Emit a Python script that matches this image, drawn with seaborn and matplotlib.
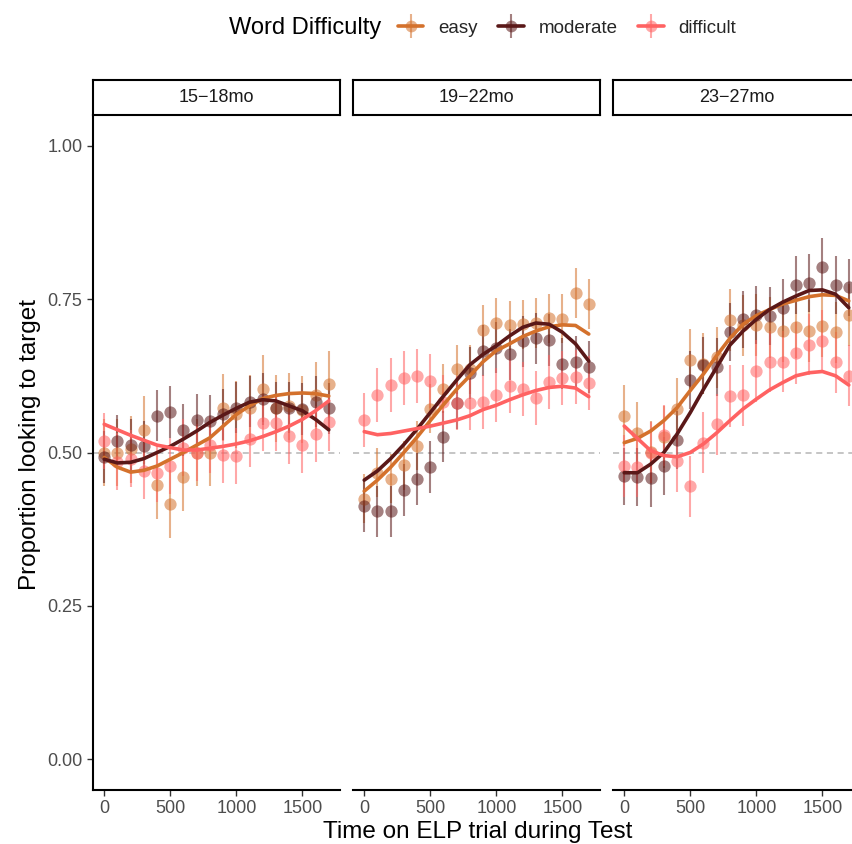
import numpy as np
import pandas as pd
import matplotlib
matplotlib.use("Agg")
import matplotlib.pyplot as plt
from matplotlib.lines import Line2D
from matplotlib.legend_handler import HandlerTuple
import seaborn as sns

sns.set_theme(style="white")
plt.rcParams["font.family"] = ["Liberation Sans", "DejaVu Sans"]

# ---- data -------------------------------------------------------------
time_ms = [0, 100, 200, 300, 400, 500, 600, 700, 800,
           900, 1000, 1100, 1200, 1300, 1400, 1500, 1600, 1700]
age_groups = ["15\u221218mo", "19\u221222mo", "23\u221227mo"]
difficulties = ["easy", "moderate", "difficult"]

# mean proportion of looking to target, per time bin
mean_15_18 = {
    "easy":      [0.500, 0.500, 0.505, 0.537, 0.447, 0.416, 0.460, 0.500, 0.500,
                  0.573, 0.562, 0.572, 0.604, 0.572, 0.575, 0.570, 0.593, 0.611],
    "moderate":  [0.493, 0.519, 0.512, 0.510, 0.560, 0.566, 0.537, 0.553, 0.552,
                  0.562, 0.573, 0.583, 0.587, 0.573, 0.573, 0.571, 0.583, 0.572],
    "difficult": [0.519, 0.485, 0.490, 0.470, 0.466, 0.478, 0.508, 0.500, 0.512,
                  0.496, 0.494, 0.522, 0.548, 0.548, 0.527, 0.512, 0.530, 0.549],
}
mean_19_22 = {
    "easy":      [0.425, 0.467, 0.457, 0.479, 0.511, 0.571, 0.604, 0.636, 0.636,
                  0.700, 0.711, 0.707, 0.709, 0.711, 0.719, 0.718, 0.760, 0.742],
    "moderate":  [0.413, 0.404, 0.404, 0.439, 0.457, 0.476, 0.526, 0.580, 0.630,
                  0.666, 0.671, 0.660, 0.681, 0.686, 0.683, 0.645, 0.648, 0.639],
    "difficult": [0.553, 0.594, 0.610, 0.621, 0.624, 0.616, 0.582, 0.580, 0.580,
                  0.583, 0.593, 0.608, 0.604, 0.589, 0.615, 0.622, 0.623, 0.613],
}
mean_23_27 = {
    "easy":      [0.560, 0.532, 0.501, 0.525, 0.571, 0.651, 0.645, 0.655, 0.716,
                  0.707, 0.708, 0.704, 0.698, 0.704, 0.698, 0.706, 0.696, 0.724],
    "moderate":  [0.461, 0.460, 0.459, 0.478, 0.520, 0.618, 0.642, 0.639, 0.696,
                  0.717, 0.724, 0.723, 0.736, 0.773, 0.776, 0.803, 0.773, 0.769],
    "difficult": [0.478, 0.477, 0.500, 0.528, 0.486, 0.445, 0.516, 0.546, 0.592,
                  0.593, 0.633, 0.648, 0.648, 0.662, 0.676, 0.682, 0.647, 0.625],
}

# standard error of each series
se_15_18 = {"easy": 0.055, "moderate": 0.042, "difficult": 0.046}
se_19_22 = {"easy": 0.040, "moderate": 0.042, "difficult": 0.044}
se_23_27 = {"easy": 0.050, "moderate": 0.047, "difficult": 0.050}

# model-fitted trajectories
fit_15_18 = {
    "easy":      [0.492, 0.476, 0.468, 0.471, 0.478, 0.489, 0.500, 0.512, 0.524,
                  0.543, 0.562, 0.576, 0.588, 0.593, 0.596, 0.597, 0.596, 0.592],
    "moderate":  [0.489, 0.483, 0.484, 0.490, 0.500, 0.510, 0.522, 0.535, 0.549,
                  0.561, 0.572, 0.582, 0.586, 0.584, 0.576, 0.568, 0.554, 0.537],
    "difficult": [0.546, 0.537, 0.528, 0.520, 0.512, 0.508, 0.504, 0.504, 0.507,
                  0.510, 0.514, 0.519, 0.526, 0.534, 0.543, 0.554, 0.568, 0.584],
}
fit_19_22 = {
    "easy":      [0.437, 0.455, 0.476, 0.500, 0.525, 0.552, 0.578, 0.603, 0.625,
                  0.648, 0.666, 0.677, 0.689, 0.698, 0.705, 0.708, 0.707, 0.693],
    "moderate":  [0.455, 0.470, 0.490, 0.513, 0.538, 0.565, 0.592, 0.618, 0.643,
                  0.660, 0.674, 0.690, 0.704, 0.711, 0.709, 0.696, 0.677, 0.649],
    "difficult": [0.534, 0.529, 0.531, 0.535, 0.539, 0.543, 0.548, 0.553, 0.560,
                  0.570, 0.577, 0.586, 0.594, 0.601, 0.606, 0.608, 0.605, 0.591],
}
fit_23_27 = {
    "easy":      [0.516, 0.523, 0.535, 0.552, 0.573, 0.601, 0.628, 0.658, 0.686,
                  0.709, 0.723, 0.733, 0.742, 0.748, 0.754, 0.757, 0.756, 0.747],
    "moderate":  [0.467, 0.467, 0.481, 0.500, 0.530, 0.565, 0.603, 0.639, 0.675,
                  0.698, 0.717, 0.733, 0.745, 0.755, 0.764, 0.765, 0.758, 0.736],
    "difficult": [0.543, 0.523, 0.503, 0.495, 0.493, 0.500, 0.514, 0.532, 0.552,
                  0.571, 0.587, 0.602, 0.614, 0.625, 0.630, 0.632, 0.625, 0.610],
}

means = [mean_15_18, mean_19_22, mean_23_27]
ses = [se_15_18, se_19_22, se_23_27]
fits = [fit_15_18, fit_19_22, fit_23_27]

palette = {"easy": "#D4712C", "moderate": "#5A1818", "difficult": "#FF6262"}

# long tables for seaborn
pts_rows, fit_rows = [], []
for age, m, s, f in zip(age_groups, means, ses, fits):
    for d in difficulties:
        for t, y, yf in zip(time_ms, m[d], f[d]):
            pts_rows.append({"age": age, "difficulty": d, "time": t, "prop": y, "se": s[d]})
            fit_rows.append({"age": age, "difficulty": d, "time": t, "prop": yf})
points = pd.DataFrame(pts_rows)
fitted = pd.DataFrame(fit_rows)

# ---- layout (pixel geometry of an 852 x 844 canvas) ------------------
W, H = 852, 844
fig = plt.figure(figsize=(W / 100, H / 100), dpi=100)
panel_left = [93, 353, 613]
panel_w, panel_top, panel_bot = 247, 115, 790
strip_top = 80

tick_color = "#4D4D4D"
pt_alpha = 0.55

for i, age in enumerate(age_groups):
    x0 = panel_left[i]
    ax = fig.add_axes([x0 / W, (H - panel_bot) / H, panel_w / W, (panel_bot - panel_top) / H])
    sub_p = points[points["age"] == age]
    sub_f = fitted[fitted["age"] == age]

    ax.axhline(0.5, color="#B5B5B5", lw=1.1, ls=(0, (4, 3)), zorder=1)

    for d in difficulties:
        sd = sub_p[sub_p["difficulty"] == d]
        ax.errorbar(sd["time"], sd["prop"], yerr=sd["se"], fmt="none",
                    ecolor=palette[d], elinewidth=1.5, alpha=pt_alpha, zorder=2)
        sns.scatterplot(data=sd, x="time", y="prop", color=palette[d], s=78,
                        alpha=pt_alpha, linewidth=0, ax=ax, zorder=3, legend=False)

    sns.lineplot(data=sub_f, x="time", y="prop", hue="difficulty",
                 hue_order=difficulties, palette=palette, lw=2.6,
                 legend=False, ax=ax, zorder=4)

    ax.set_xlim(-85, 1785)
    ax.set_ylim(-0.05, 1.05)
    ax.set_xticks([0, 500, 1000, 1500])
    ax.set_xticklabels(["0", "500", "1000", "1500"])
    ax.set_yticks([0, 0.25, 0.5, 0.75, 1.0])
    ax.set_xlabel("")
    ax.set_ylabel("")
    for side in ["top", "right"]:
        ax.spines[side].set_visible(False)
    ax.spines["bottom"].set_color("black")
    ax.spines["bottom"].set_linewidth(1.5)
    if i == 0:
        ax.spines["left"].set_color("black")
        ax.spines["left"].set_linewidth(1.5)
        ax.set_yticklabels(["0.00", "0.25", "0.50", "0.75", "1.00"])
        ax.tick_params(axis="y", length=4.5, width=1.0, color="#333333",
                       labelsize=13, labelcolor=tick_color, pad=3, left=True)
    else:
        ax.spines["left"].set_visible(False)
        ax.tick_params(axis="y", left=False, labelleft=False)
    ax.tick_params(axis="x", length=4.5, width=1.0, color="#333333",
                   labelsize=13, labelcolor=tick_color, pad=3, bottom=True)
    ax.grid(False)

    # facet strip
    sax = fig.add_axes([x0 / W, (H - panel_top) / H, panel_w / W, (panel_top - strip_top) / H])
    sax.set_xticks([])
    sax.set_yticks([])
    sax.set_facecolor("white")
    for sp in sax.spines.values():
        sp.set_visible(True)
        sp.set_color("black")
        sp.set_linewidth(1.5)
    sax.text(0.5, 0.5, age, ha="center", va="center", fontsize=13,
             color="#1A1A1A", transform=sax.transAxes)

# axis titles
fig.text(478 / W, 1 - 821 / H, "Time on ELP trial during Test", ha="center",
         va="top", fontsize=17.5, color="black")
fig.text(30 / W, 1 - 445 / H, "Proportion looking to target", ha="center",
         va="center", rotation=90, fontsize=17.5, color="black")

# legend across the top
fig.text(229 / W, 1 - 28 / H, "Word Difficulty", ha="left", va="center",
         fontsize=17, color="black")
handles = []
for d in difficulties:
    c = palette[d]
    handles.append((
        Line2D([], [], color=c, lw=2.6),
        Line2D([], [], color=c, marker="o", ms=8.5, ls="", alpha=pt_alpha, mew=0),
        Line2D([], [], color=c, marker="|", ms=17, mew=1.5, ls="", alpha=pt_alpha),
    ))
fig.legend(handles, difficulties, handler_map={tuple: HandlerTuple(ndivide=1)},
           loc="center left", bbox_to_anchor=(398 / W, 1 - 28 / H), ncol=3,
           frameon=False, fontsize=13.5, handlelength=1.35, handletextpad=0.8,
           columnspacing=1.1, borderpad=0, borderaxespad=0)

fig.savefig("out.png", dpi=100)
